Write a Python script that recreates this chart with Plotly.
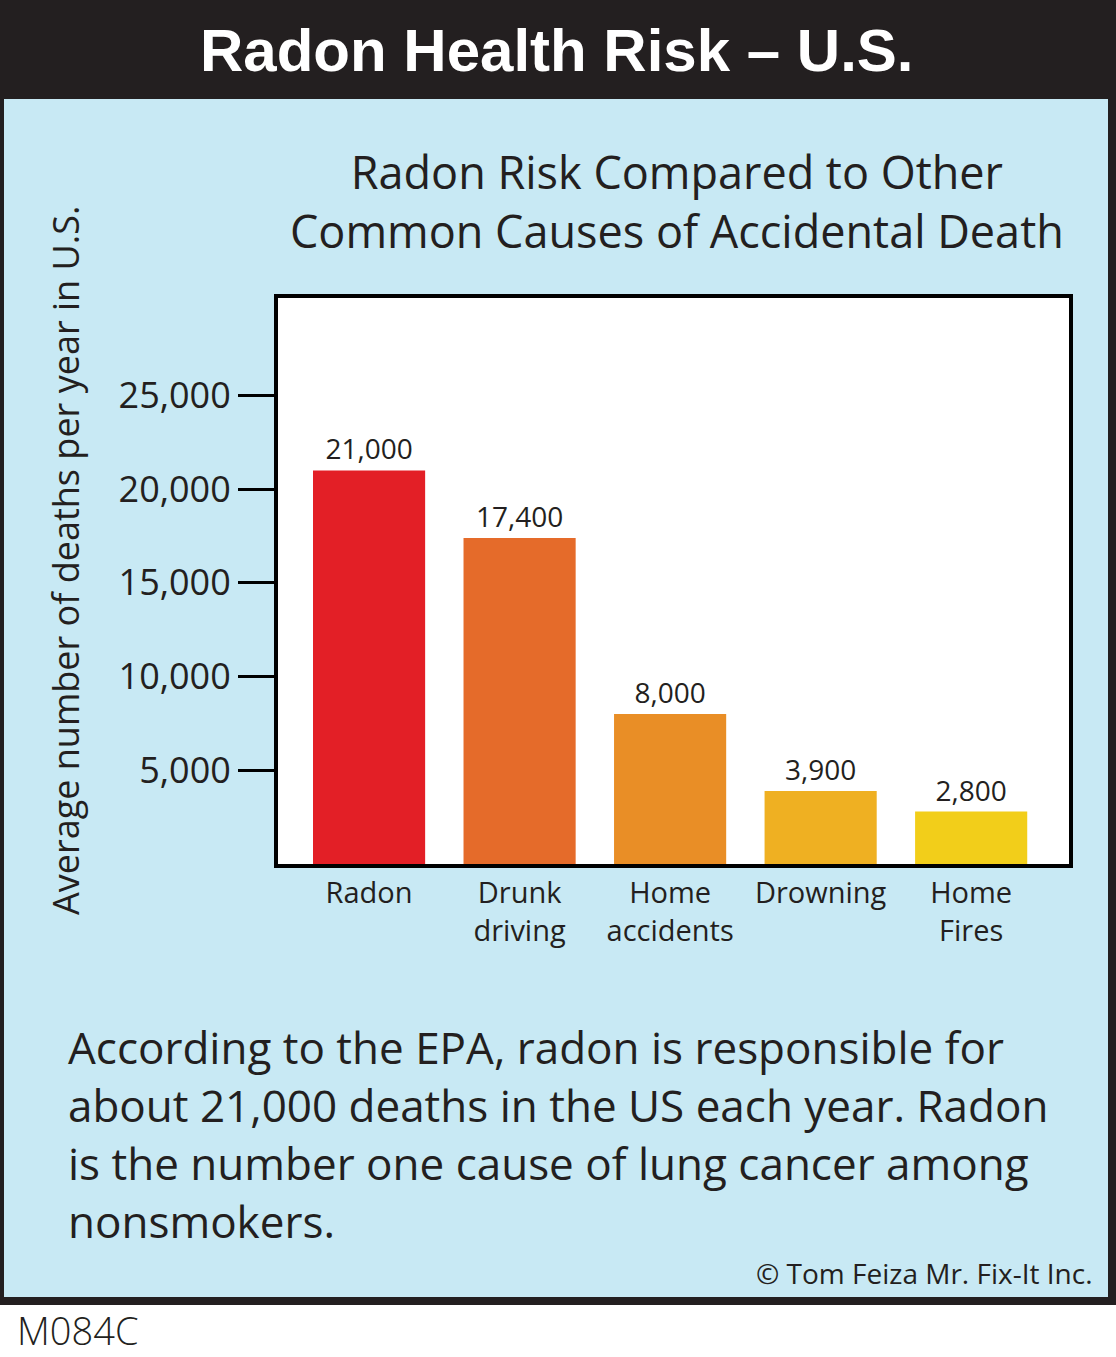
import plotly.graph_objects as go

categories = ["Radon", "Drunk<br>driving", "Home<br>accidents", "Drowning", "Home<br>Fires"]
deaths = [21000, 17400, 8000, 3900, 2800]
value_labels = ["21,000", "17,400", "8,000", "3,900", "2,800"]
bar_colors = ["#E31F26", "#E56B2A", "#E98E26", "#EFB022", "#F2CE1A"]
tick_values = [5000, 10000, 15000, 20000, 25000]
tick_labels = ["5,000", "10,000", "15,000", "20,000", "25,000"]

body_lines = [
    "According to the EPA, radon is responsible for",
    "about 21,000 deaths in the US each year. Radon",
    "is the number one cause of lung cancer among",
    "nonsmokers.",
]

W, H = 1116, 1357
L, R, T, B = 278, 1069, 298, 864  # plot box in pixels


def px(x):
    return (x - L) / (R - L)


def py(y):
    return (B - y) / (B - T)


INK = "#231F20"
BLUE = "#C8E9F4"
FONT = "Open Sans"

fig = go.Figure()
fig.add_trace(go.Bar(
    x=categories,
    y=deaths,
    marker=dict(color=bar_colors, line=dict(width=0)),
    width=0.745,
    text=value_labels,
    textposition="outside",
    textfont=dict(family=FONT, size=28, color=INK),
    cliponaxis=False,
    hoverinfo="skip",
))

shapes = [
    dict(type="rect", xref="paper", yref="paper", x0=px(0), x1=px(W), y0=py(1305), y1=py(0),
         fillcolor=INK, line=dict(width=0), layer="below"),
    dict(type="rect", xref="paper", yref="paper", x0=px(4), x1=px(1108), y0=py(1297), y1=py(99),
         fillcolor=BLUE, line=dict(width=0), layer="below"),
    dict(type="rect", xref="paper", yref="paper", x0=0, x1=1, y0=0, y1=1,
         fillcolor="white", line=dict(width=0), layer="below"),
]

annotations = [
    dict(text="Radon Health Risk – U.S.", x=px(557), y=py(50), xref="paper", yref="paper",
         xanchor="center", yanchor="middle", showarrow=False,
         font=dict(family="Liberation Sans Narrow, Liberation Sans, Arial",
                   size=60, color="white", weight="bold")),
    dict(text="Radon Risk Compared to Other<br>Common Causes of Accidental Death",
         x=px(677), y=py(201), xref="paper", yref="paper", xanchor="center", yanchor="middle",
         showarrow=False, font=dict(family=FONT, size=45, color=INK)),
    dict(text="Average number of deaths per year in U.S.", x=px(65), y=py(561),
         xref="paper", yref="paper", xanchor="center", yanchor="middle", textangle=-90,
         showarrow=False, font=dict(family=FONT, size=36, color=INK)),
    dict(text="© Tom Feiza Mr. Fix-It Inc.", x=px(1095), y=py(1273), xref="paper", yref="paper",
         xanchor="right", yanchor="middle", showarrow=False,
         font=dict(family=FONT, size=28, color=INK)),
    dict(text="M084C", x=px(15), y=py(1330), xref="paper", yref="paper",
         xanchor="left", yanchor="middle", showarrow=False,
         font=dict(family=FONT, size=38, color=INK, weight=300)),
]
for i, line in enumerate(body_lines):
    annotations.append(dict(text=line, x=px(66), y=py(1047 + 58 * i), xref="paper", yref="paper",
                            xanchor="left", yanchor="middle", showarrow=False,
                            font=dict(family=FONT, size=44, color=INK)))

fig.update_layout(
    width=W, height=H,
    margin=dict(l=L, r=W - R, t=T, b=H - B, pad=0),
    paper_bgcolor="white",
    plot_bgcolor="white",
    showlegend=False,
    shapes=shapes,
    annotations=annotations,
    bargap=0.25,
    xaxis=dict(
        range=[-0.605, 4.65],
        showline=True, linecolor="black", linewidth=4, mirror=True,
        showgrid=False, ticks="", zeroline=False,
        tickfont=dict(family=FONT, size=29, color=INK),
        fixedrange=True,
    ),
    yaxis=dict(
        range=[0, 30200],
        tickvals=tick_values, ticktext=tick_labels,
        showline=True, linecolor="black", linewidth=4, mirror=True,
        ticks="outside", ticklen=36, tickwidth=3, tickcolor="black",
        showgrid=False, zeroline=False,
        tickfont=dict(family=FONT, size=36, color=INK),
        fixedrange=True,
    ),
)

fig.write_html("out.html", config={"displayModeBar": False})
